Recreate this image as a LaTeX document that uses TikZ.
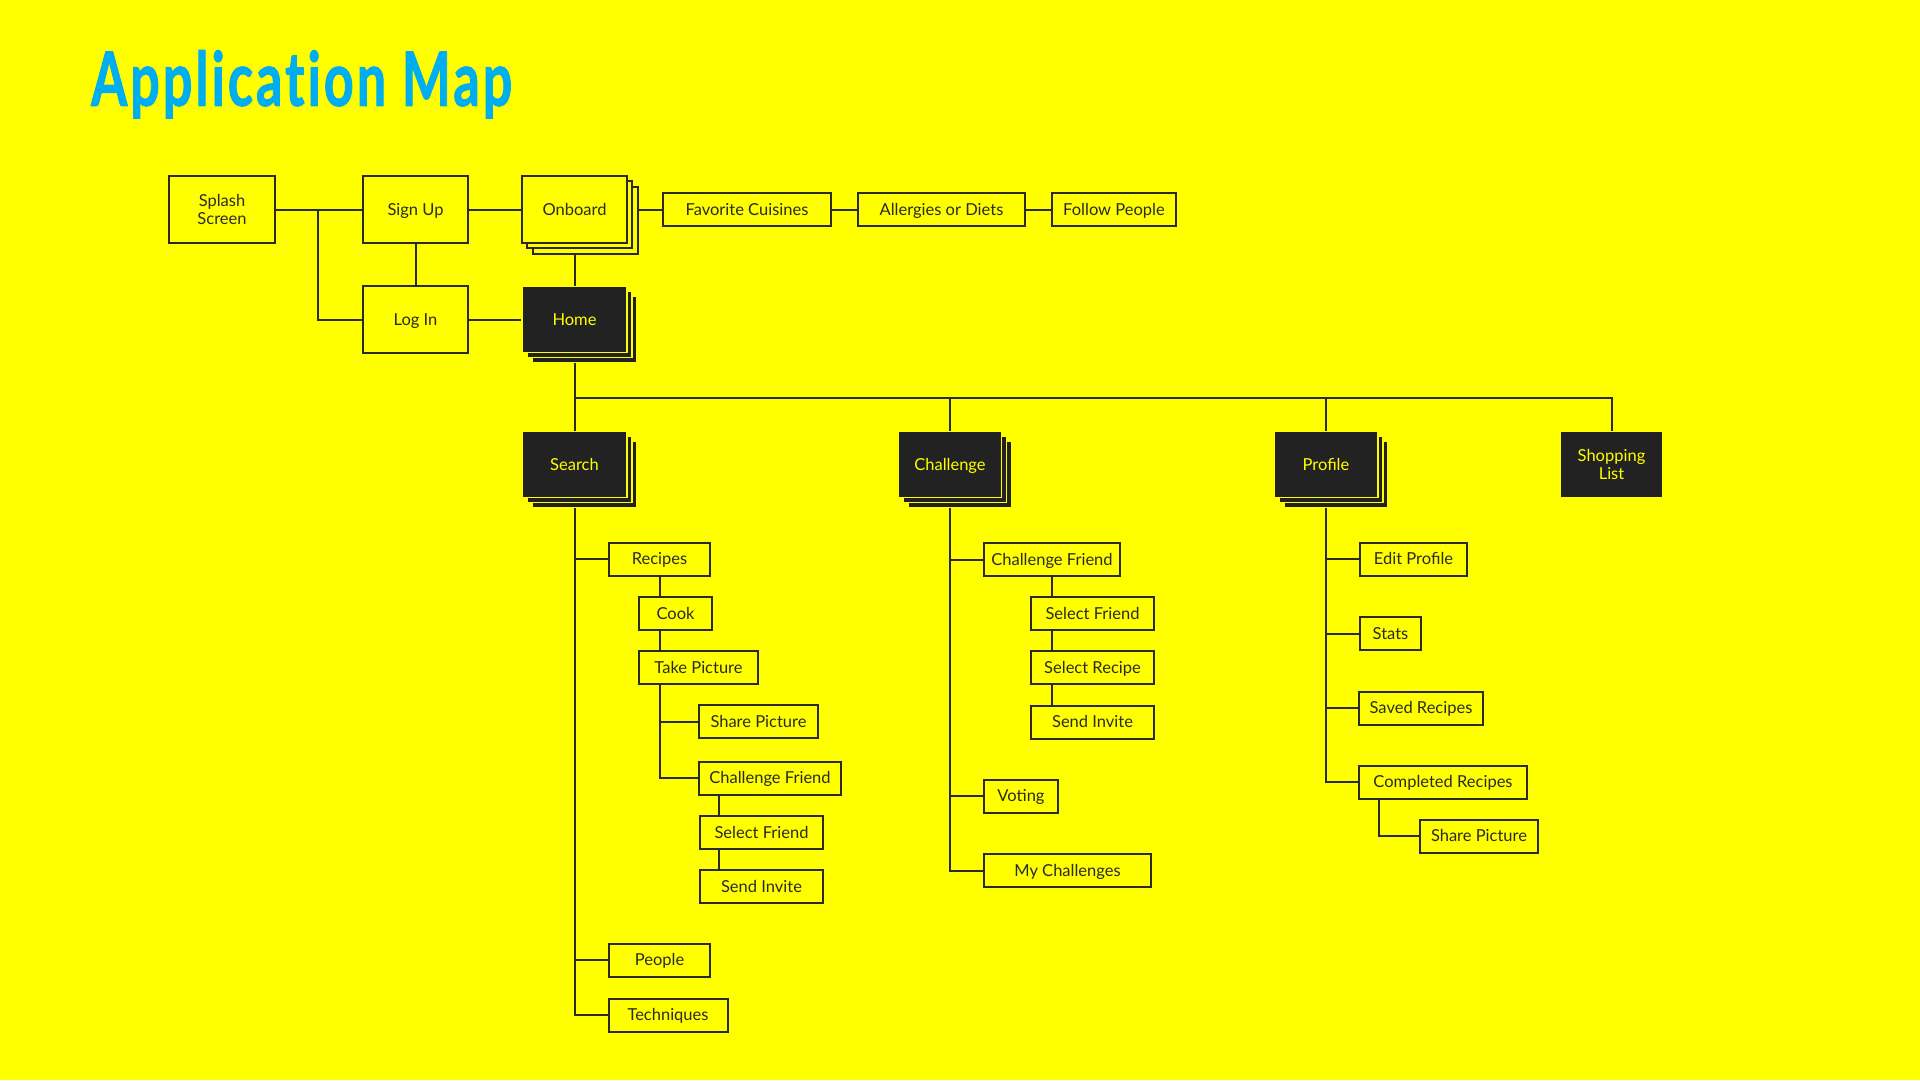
\documentclass[tikz,border=0pt]{standalone}
\usepackage{fontspec}
\usepackage{graphicx}
\setmainfont{Lato}
\newfontfamily\boxfont{Lato}
\newfontfamily\titlefont{Lato}[Ligatures=NoCommon,LetterSpace=6,BoldFeatures={FakeBold=1.6}]
\usetikzlibrary{shadows,calc}
\definecolor{bgy}{HTML}{FFFF00}
\definecolor{ink}{HTML}{2A2A2A}
\definecolor{dark}{HTML}{222222}
\definecolor{titlec}{HTML}{00AEEF}
\pgfdeclarelayer{back}
\pgfdeclarelayer{links}
\pgfsetlayers{back,links,main}
\begin{document}
\begin{tikzpicture}[x=1pt,y=-1pt,
  boxbase/.style={draw=ink,line width=2pt,fill=bgy,text=ink,inner sep=0pt,
    minimum height=33pt,font=\boxfont\fontsize{16.5}{18.5}\selectfont,align=center},
  box/.style={boxbase,text height=11.9pt,text depth=0pt},
  bigbox/.style={box,minimum width=105pt,minimum height=67pt},
  bigbox2/.style={boxbase,minimum width=105pt,minimum height=67pt},
  darkbase/.style={draw=bgy,line width=1.5pt,fill=dark,text=bgy,inner sep=0pt,
    minimum width=105pt,minimum height=66pt,font=\boxfont\fontsize{16.5}{18.5}\selectfont,align=center},
  darkbox/.style={darkbase,text height=11.9pt,text depth=0pt},
  ystack/.style={
    copy shadow={shadow xshift=10.6pt,shadow yshift=-10.6pt,fill=bgy,draw=ink,line width=2pt},
    copy shadow={shadow xshift=5.3pt,shadow yshift=-5.3pt,fill=bgy,draw=ink,line width=2pt}},
  dstack/.style={
    copy shadow={shadow xshift=10pt,shadow yshift=-10pt,fill=dark,draw=bgy,line width=1.5pt},
    copy shadow={shadow xshift=5pt,shadow yshift=-5pt,fill=dark,draw=bgy,line width=1.5pt}},
  link/.style={draw=ink,line width=2pt}]

\begin{pgfonlayer}{back}
  \fill[bgy] (0,0) rectangle (1920,1080);
\end{pgfonlayer}
\useasboundingbox (0,0) rectangle (1920,1080);

% title
\node[anchor=north west,inner sep=0pt,text=titlec] (title) at (91,50)
  {\resizebox*{421pt}{68pt}{\titlefont\bfseries Application Map}};

% top row
\node[bigbox2,minimum width=106pt] (splash) at (222,209.5) {Splash\\Screen};
\node[bigbox] (signup) at (415.5,209.5) {Sign Up};
\node[bigbox,ystack] (onboard) at (574.5,209.5) {Onboard};
\node[bigbox] (login) at (415.5,319.5) {Log In};
\node[darkbox,dstack] (home) at (574.5,319.5) {Home};
\node[box,minimum width=168pt] (fav) at (747,209.5) {Favorite Cuisines};
\node[box,minimum width=167pt] (allerg) at (941.5,209.5) {Allergies or Diets};
\node[box,minimum width=124pt] (follow) at (1114,209.5) {Follow People};

% second level
\node[darkbox,dstack] (search) at (574.5,464.5) {Search};
\node[darkbox,dstack,minimum width=103pt] (challenge) at (950,464.5) {Challenge};
\node[darkbox,dstack,minimum width=104pt] (profile) at (1326,464.5) {Profile};
\node[darkbase,minimum width=103pt] (shop) at (1611.5,464.5) {Shopping\\List};

% search subtree
\node[box,minimum width=101pt] (rec) at (659.5,559) {Recipes};
\node[box,minimum width=73pt] (cook) at (675.5,613.5) {Cook};
\node[box,minimum width=119pt] (takepic) at (698.5,667.5) {Take Picture};
\node[box,minimum width=119pt] (sharea) at (758.5,721.5) {Share Picture};
\node[box,minimum width=142pt] (chfra) at (770,778) {Challenge Friend};
\node[box,minimum width=123pt] (selfa) at (761.5,832.5) {Select Friend};
\node[box,minimum width=123pt] (sendinva) at (761.5,886.5) {Send Invite};
\node[box,minimum width=101pt] (people) at (659.5,960) {People};
\node[box,minimum width=119pt] (tech) at (668,1015) {Techniques};

% challenge subtree
\node[box,minimum width=136pt] (chfrb) at (1052,559.5) {Challenge Friend};
\node[box,minimum width=123pt] (selfb) at (1092.5,613.5) {Select Friend};
\node[box,minimum width=123pt] (selrec) at (1092.5,667.5) {Select Recipe};
\node[box,minimum width=123pt] (sendinvb) at (1092.5,722) {Send Invite};
\node[box,minimum width=74pt] (voting) at (1021,796) {Voting};
\node[box,minimum width=167pt] (mych) at (1067.5,870.5) {My Challenges};

% profile subtree
\node[box,minimum width=107pt] (edit) at (1413.5,559) {Edit Profile};
\node[box,minimum width=61pt] (stats) at (1390.5,633.5) {Stats};
\node[box,minimum width=124pt] (saved) at (1421,708) {Saved Recipes};
\node[box,minimum width=168pt] (compl) at (1443,782) {Completed Recipes};
\node[box,minimum width=118pt] (sharec) at (1479,836) {Share Picture};

\coordinate (j1) at (318,209.5);
\coordinate (busL) at (574.5,398);

\begin{pgfonlayer}{links}
  % top
  \draw[link] (splash.east) -- (signup.west);
  \draw[link] (j1) |- (login.west);
  \draw[link] (signup.south) -- (login.north);
  \draw[link] (signup.east) -- (onboard.west);
  \draw[link] (onboard.south) -- (home.north);
  \draw[link] (login.east) -- (home.west);
  \draw[link] (onboard.east) -- (fav.west);
  \draw[link] (fav.east) -- (allerg.west);
  \draw[link] (allerg.east) -- (follow.west);
  % bus
  \draw[link] (home.south) -- (search.north);
  \draw[link] (busL) -| (shop.north);
  \draw[link] (challenge.north) -- (challenge.north |- busL);
  \draw[link] (profile.north) -- (profile.north |- busL);
  % search
  \draw[link] (search.south) |- (tech.west);
  \draw[link] (rec.west) -- (rec.west -| search.south);
  \draw[link] (people.west) -- (people.west -| search.south);
  \draw[link] (rec.south) -- (rec.south |- takepic.north);
  \draw[link] (rec.south |- takepic.south) |- (chfra.west);
  \draw[link] (sharea.west) -- (sharea.west -| rec.south);
  \draw[link] ([xshift=21pt]chfra.south west) -- ([xshift=21pt]chfra.south west |- sendinva.north);
  % challenge
  \draw[link] (challenge.south) |- (mych.west);
  \draw[link] (chfrb.west) -- (chfrb.west -| challenge.south);
  \draw[link] (voting.west) -- (voting.west -| challenge.south);
  \draw[link] (chfrb.south) -- (chfrb.south |- sendinvb.north);
  % profile
  \draw[link] (profile.south) |- (compl.west);
  \draw[link] (edit.west) -- (edit.west -| profile.south);
  \draw[link] (stats.west) -- (stats.west -| profile.south);
  \draw[link] (saved.west) -- (saved.west -| profile.south);
  \draw[link] ([xshift=21pt]compl.south west) |- (sharec.west);
\end{pgfonlayer}
\end{tikzpicture}
\end{document}
